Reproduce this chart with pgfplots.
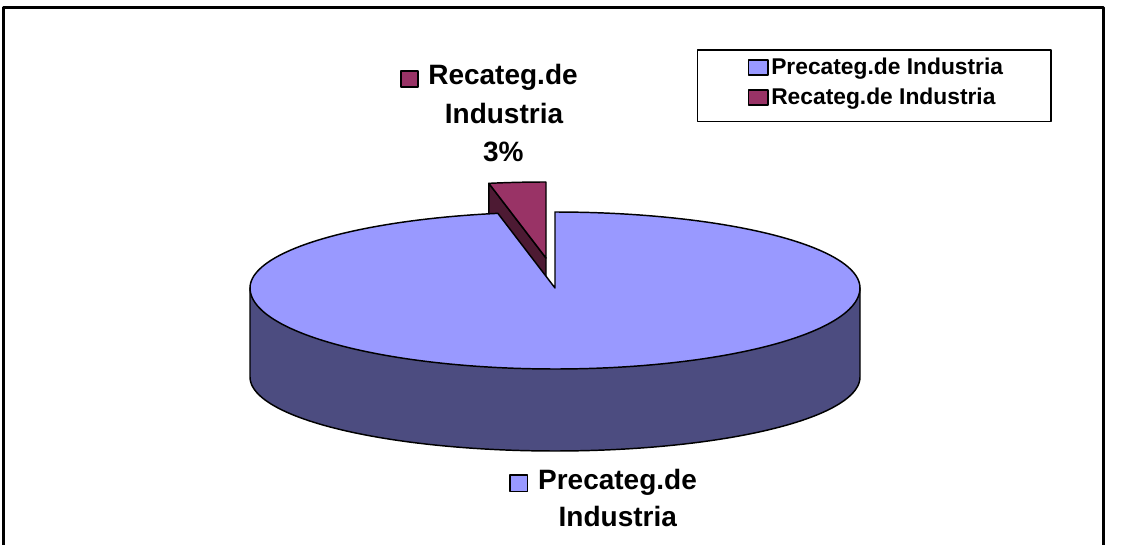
\documentclass[border=0pt]{standalone}
\usepackage{pgfplots}
\usepackage{pgfplotstable}
\pgfplotsset{compat=1.18}
\usepackage{fontspec}
\setmainfont{Liberation Sans}
\definecolor{pretop}{HTML}{9999FF}
\definecolor{preside}{HTML}{4C4C80}
\definecolor{retop}{HTML}{993366}
\definecolor{reside}{HTML}{4D1A33}
\pgfplotstableread{
label value
Precateg 97
Recateg 3
}\piedata
\newcommand\lblfont{\fontsize{21}{25}\selectfont\bfseries}
\newcommand\legfont{\fontsize{17.1}{20}\selectfont\bfseries}
\begin{document}%
\begin{tikzpicture}
\pgfplotstablegetelem{0}{value}\of\piedata\let\valA\pgfplotsretval
\pgfplotstablegetelem{1}{value}\of\piedata\let\valB\pgfplotsretval
\pgfmathsetmacro\tot{\valA+\valB}
\pgfmathsetmacro\angB{90+360*\valB/\tot}
\pgfmathsetmacro\sx{546}
\pgfmathsetmacro\sy{258}
\pgfmathsetmacro\bx{\sx+305*cos(\angB)}
\pgfmathsetmacro\by{\sy-76*sin(\angB)}
\pgfmathsetmacro\byd{\by+89}
\pgfmathsetmacro\syd{\sy+89}
\begin{axis}[scale only axis, width=843.75pt, height=408.75pt,
  xmin=0, xmax=1125, ymin=0, ymax=545, y dir=reverse,
  hide axis, clip=true, line join=round]
\path (axis cs:0,0) rectangle (axis cs:1125,545);
% exploded slice: radial side face
\addplot[fill=reside, draw=black, line width=1.1pt]
  coordinates {(\sx,\sy) (\bx,\by) (\bx,\byd) (\sx,\syd)} -- cycle;
% exploded slice: top face
\addplot[fill=retop, draw=black, line width=1.1pt, domain=90:\angB, samples=20, variable=\t]
  ({\sx+305*cos(\t)},{\sy-76*sin(\t)}) -- (axis cs:\sx,\sy) -- cycle;
% main slice: front side
\addplot[fill=preside, draw=black, line width=1.1pt, domain=180:360, samples=120, variable=\t]
  ({555+305*cos(\t)},{377-74*sin(\t)}) -- (axis cs:860,288) -- (axis cs:555,330) -- (axis cs:250,288) -- cycle;
% main slice: top face
\addplot[fill=pretop, draw=black, line width=1.1pt, domain=\angB:450, samples=200, variable=\t]
  ({555+305*cos(\t)},{288-((sin(\t)>0)?76:81)*sin(\t)}) -- (axis cs:555,288) -- cycle;
% data labels
\filldraw[fill=retop, draw=black, line width=0.8pt] (axis cs:401,71) rectangle (axis cs:418,87);
\node[anchor=base, inner sep=0, font=\lblfont] at (axis cs:503,85) {Recateg.de};
\node[anchor=base, inner sep=0, font=\lblfont] at (axis cs:504,123.3) {Industria};
\node[anchor=base, inner sep=0, font=\lblfont] at (axis cs:503.4,161.7) {3\%};
\filldraw[fill=pretop, draw=black, line width=0.8pt] (axis cs:510,475) rectangle (axis cs:527.5,491.5);
\node[anchor=base, inner sep=0, font=\lblfont] at (axis cs:617.5,489.3) {Precateg.de};
\node[anchor=base, inner sep=0, font=\lblfont] at (axis cs:617.8,526) {Industria};
% legend
\draw[black, line width=1.1pt, fill=white] (axis cs:697.3,50) rectangle (axis cs:1051,121.7);
\filldraw[fill=pretop, draw=black, line width=0.8pt] (axis cs:748.5,60) rectangle (axis cs:768,75);
\node[anchor=base west, inner sep=0, font=\legfont] at (axis cs:771,74.3) {Precateg.de Industria};
\filldraw[fill=retop, draw=black, line width=0.8pt] (axis cs:748.5,90) rectangle (axis cs:768,105);
\node[anchor=base west, inner sep=0, font=\legfont] at (axis cs:771,105) {Recateg.de Industria};
% chart frame
\draw[black, line width=2.25pt] (axis cs:4,545) -- (axis cs:4,7.5) -- (axis cs:1103,7.5) -- (axis cs:1103,545);
\end{axis}
\end{tikzpicture}%
\end{document}
